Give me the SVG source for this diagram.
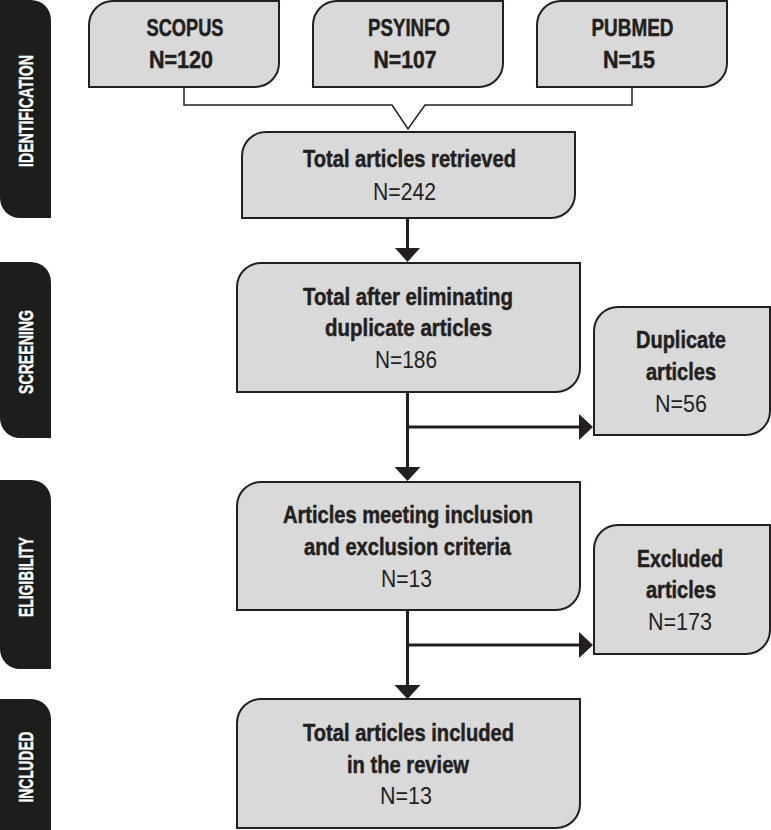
<svg xmlns="http://www.w3.org/2000/svg" width="771" height="830" viewBox="0 0 771 830">
<style>
.box{fill:#d9d9d9;stroke:#231f20;stroke-width:2}
.side{fill:#1d1d1b}
.sl{fill:#fff;stroke:#fff;stroke-width:0.4;font-family:"Liberation Sans",Arial,sans-serif;font-weight:bold;font-size:20px;text-anchor:middle}
.b{fill:#231f20;stroke:#231f20;stroke-width:0.5;font-family:"Liberation Sans",Arial,sans-serif;font-weight:bold;font-size:24px;text-anchor:middle}
.r{fill:#231f20;font-family:"Liberation Sans",Arial,sans-serif;font-size:24px;text-anchor:middle}
.thin{fill:none;stroke:#231f20;stroke-width:1.5}
.thick{fill:none;stroke:#231f20;stroke-width:3}
.head{fill:#231f20}
</style>
<rect width="771" height="830" fill="#fff"/>
<g id="stage-identification">
<path class="side" d="M0,0 H31 A20 20 0 0 1 51,20 V218 H20 A20 20 0 0 1 0,198 Z"/>
<text class="sl" transform="translate(33,111) rotate(-90)" textLength="112" lengthAdjust="spacingAndGlyphs">IDENTIFICATION</text>
</g>
<g id="stage-screening">
<path class="side" d="M0,262 H31 A20 20 0 0 1 51,282 V438 H20 A20 20 0 0 1 0,418 Z"/>
<text class="sl" transform="translate(33,352) rotate(-90)" textLength="84" lengthAdjust="spacingAndGlyphs">SCREENING</text>
</g>
<g id="stage-eligibility">
<path class="side" d="M0,480 H31 A20 20 0 0 1 51,500 V669 H20 A20 20 0 0 1 0,649 Z"/>
<text class="sl" transform="translate(33,577) rotate(-90)" textLength="80" lengthAdjust="spacingAndGlyphs">ELIGIBILITY</text>
</g>
<g id="stage-included">
<path class="side" d="M0,699 H31 A20 20 0 0 1 51,719 V840 H0 Z"/>
<text class="sl" transform="translate(33,767) rotate(-90)" textLength="71" lengthAdjust="spacingAndGlyphs">INCLUDED</text>
</g>
<g id="connectors">
<polyline class="thin" points="184,87 184,105 392,105 408,129 425,105 632,105 632,87"/>
<line class="thick" x1="407.5" y1="218" x2="407.5" y2="250"/>
<polygon class="head" points="395,248 420,248 407.5,262"/>
<line class="thick" x1="407.5" y1="392" x2="407.5" y2="468"/>
<polygon class="head" points="394.5,467 420.5,467 407.5,481"/>
<line class="thick" x1="407.5" y1="427" x2="581" y2="427"/>
<polygon class="head" points="579,414 579,440 593,427"/>
<line class="thick" x1="407.5" y1="610" x2="407.5" y2="686"/>
<polygon class="head" points="394.5,685 420.5,685 407.5,699"/>
<line class="thick" x1="407.5" y1="645" x2="581" y2="645"/>
<polygon class="head" points="579,632 579,658 593,645"/>
</g>
<g id="scopus">
<path class="box" d="M89,25 A24 24 0 0 1 113,1 H279 V63 A24 24 0 0 1 255,87 H89 Z"/>
<text class="b" x="185" y="36" textLength="77" lengthAdjust="spacingAndGlyphs">SCOPUS</text>
<text class="b" x="181" y="68" textLength="64" lengthAdjust="spacingAndGlyphs">N=120</text>
</g>
<g id="psyinfo">
<path class="box" d="M313,25 A24 24 0 0 1 337,1 H503 V63 A24 24 0 0 1 479,87 H313 Z"/>
<text class="b" x="409" y="36" textLength="82" lengthAdjust="spacingAndGlyphs">PSYINFO</text>
<text class="b" x="405" y="68" textLength="63" lengthAdjust="spacingAndGlyphs">N=107</text>
</g>
<g id="pubmed">
<path class="box" d="M537,25 A24 24 0 0 1 561,1 H727 V63 A24 24 0 0 1 703,87 H537 Z"/>
<text class="b" x="632.5" y="36" textLength="82" lengthAdjust="spacingAndGlyphs">PUBMED</text>
<text class="b" x="629" y="68" textLength="52" lengthAdjust="spacingAndGlyphs">N=15</text>
</g>
<g id="retrieved">
<path class="box" d="M242,156 A24 24 0 0 1 266,132 H575 V194 A24 24 0 0 1 551,218 H242 Z"/>
<text class="b" x="409.5" y="167" textLength="213" lengthAdjust="spacingAndGlyphs">Total articles retrieved</text>
<text class="r" x="404.5" y="200" textLength="63" lengthAdjust="spacingAndGlyphs">N=242</text>
</g>
<g id="deduplicated">
<path class="box" d="M237,287 A24 24 0 0 1 261,263 H580 V368 A24 24 0 0 1 556,392 H237 Z"/>
<text class="b" x="408" y="305" textLength="210" lengthAdjust="spacingAndGlyphs">Total after eliminating</text>
<text class="b" x="408.5" y="336" textLength="167" lengthAdjust="spacingAndGlyphs">duplicate articles</text>
<text class="r" x="406" y="368" textLength="62" lengthAdjust="spacingAndGlyphs">N=186</text>
</g>
<g id="duplicates">
<path class="box" d="M594,331 A24 24 0 0 1 618,307 H770 V411 A24 24 0 0 1 746,435 H594 Z"/>
<text class="b" x="681" y="348" textLength="90" lengthAdjust="spacingAndGlyphs">Duplicate</text>
<text class="b" x="681" y="380" textLength="70" lengthAdjust="spacingAndGlyphs">articles</text>
<text class="r" x="681" y="412" textLength="52" lengthAdjust="spacingAndGlyphs">N=56</text>
</g>
<g id="eligible">
<path class="box" d="M237,506 A24 24 0 0 1 261,482 H580 V586 A24 24 0 0 1 556,610 H237 Z"/>
<text class="b" x="408" y="523" textLength="250" lengthAdjust="spacingAndGlyphs">Articles meeting inclusion</text>
<text class="b" x="407.5" y="555" textLength="207" lengthAdjust="spacingAndGlyphs">and exclusion criteria</text>
<text class="r" x="406.5" y="587" textLength="51" lengthAdjust="spacingAndGlyphs">N=13</text>
</g>
<g id="excluded">
<path class="box" d="M594,549 A24 24 0 0 1 618,525 H770 V630 A24 24 0 0 1 746,654 H594 Z"/>
<text class="b" x="680" y="567" textLength="86" lengthAdjust="spacingAndGlyphs">Excluded</text>
<text class="b" x="681" y="598" textLength="70" lengthAdjust="spacingAndGlyphs">articles</text>
<text class="r" x="680" y="630" textLength="64" lengthAdjust="spacingAndGlyphs">N=173</text>
</g>
<g id="included">
<path class="box" d="M237,723 A24 24 0 0 1 261,699 H580 V804 A24 24 0 0 1 556,828 H237 Z"/>
<text class="b" x="408.5" y="741" textLength="211" lengthAdjust="spacingAndGlyphs">Total articles included</text>
<text class="b" x="408" y="773" textLength="122" lengthAdjust="spacingAndGlyphs">in the review</text>
<text class="r" x="406" y="804" textLength="52" lengthAdjust="spacingAndGlyphs">N=13</text>
</g>
</svg>
